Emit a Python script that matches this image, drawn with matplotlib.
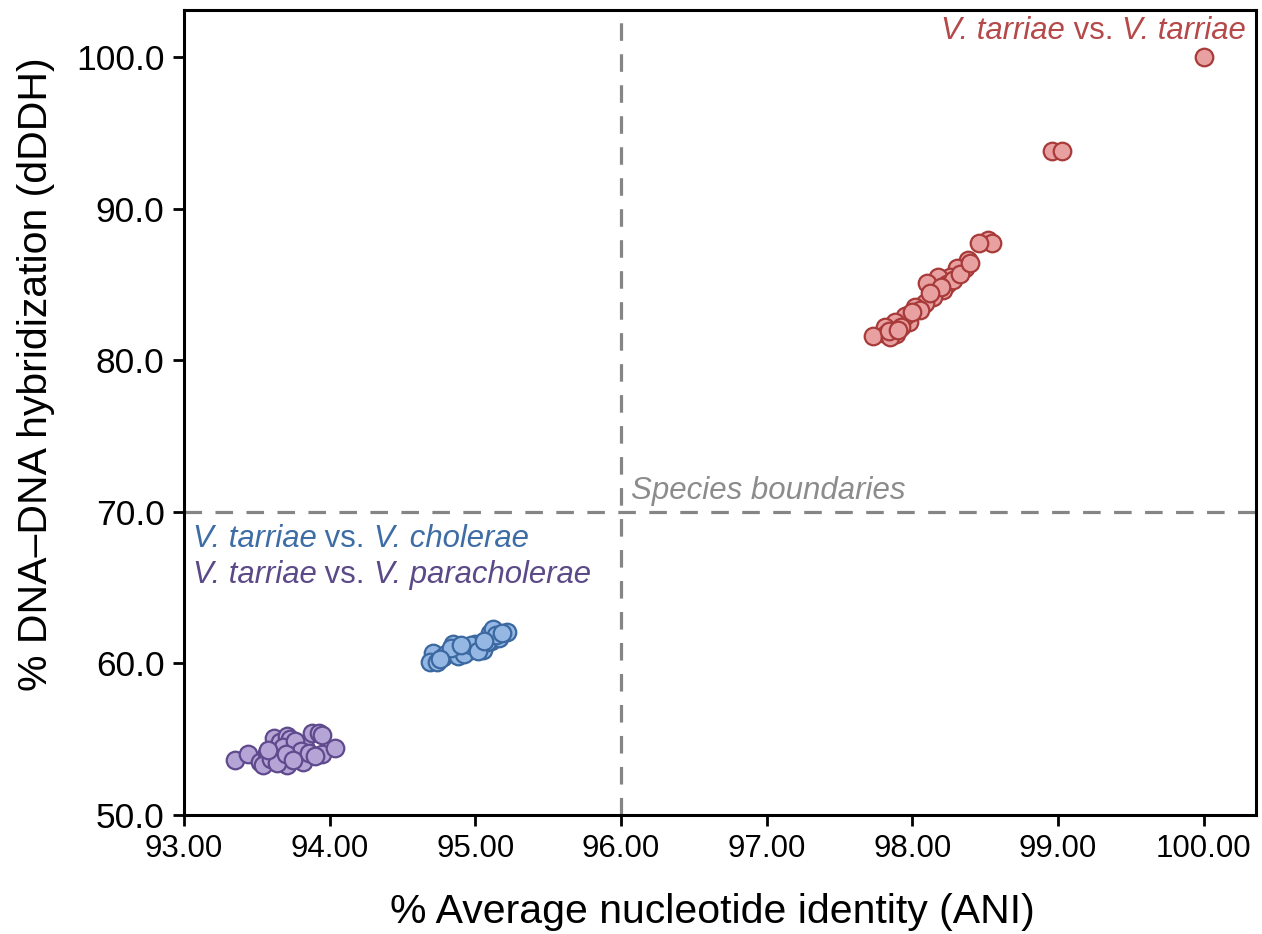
import matplotlib
matplotlib.use("Agg")
import matplotlib.pyplot as plt
from matplotlib.transforms import offset_copy

plt.rcParams["font.family"] = ["Liberation Sans", "DejaVu Sans"]

# V. tarriae vs. V. tarriae
red_ani = [100.00, 98.96, 99.03,
           98.52, 98.55, 98.46, 98.38, 98.36, 98.31, 98.26, 98.18, 98.10,
           98.24, 98.21, 98.14, 98.09, 98.02, 97.97, 97.98, 97.95, 97.88,
           97.81, 97.88, 97.82, 97.89, 97.73, 97.85, 98.28, 98.20, 98.05,
           97.92, 97.84, 98.12, 98.00, 97.90, 98.33, 98.40]
red_ddh = [100.0, 93.8, 93.8,
           87.9, 87.7, 87.7, 86.6, 86.1, 86.1, 85.5, 85.5, 85.1,
           85.0, 84.6, 84.2, 83.8, 83.5, 83.0, 82.5, 82.9, 82.5,
           82.2, 81.9, 81.7, 81.7, 81.6, 81.5, 85.3, 84.8, 83.3,
           82.2, 81.9, 84.4, 83.2, 82.0, 85.7, 86.4]

# V. tarriae vs. V. cholerae
blue_ani = [94.71, 94.69, 94.74, 94.78, 94.85, 94.85, 94.89, 94.93, 94.98,
            95.00, 95.03, 95.10, 95.11, 95.16, 95.22, 95.12, 94.80, 94.88,
            94.95, 95.05, 95.08, 94.92, 94.83, 94.97, 95.02, 95.14, 95.18,
            94.76, 94.90, 95.06]
blue_ddh = [60.7, 60.1, 60.1, 60.4, 61.3, 60.7, 60.9, 61.0, 61.1,
            61.3, 61.1, 62.0, 61.5, 61.7, 62.1, 62.3, 60.6, 60.5,
            60.8, 60.9, 61.4, 60.6, 61.0, 61.2, 60.8, 61.9, 62.0,
            60.3, 61.2, 61.5]

# V. tarriae vs. V. paracholerae
purple_ani = [93.35, 93.44, 93.52, 93.57, 93.62, 93.66, 93.66, 93.71, 93.73,
              93.73, 93.71, 93.78, 93.83, 93.82, 93.88, 93.93, 93.95, 93.95,
              94.04, 93.54, 93.60, 93.68, 93.76, 93.80, 93.64, 93.58, 93.70,
              93.86, 93.90, 93.75]
purple_ddh = [53.6, 54.0, 53.5, 54.1, 55.1, 54.8, 54.2, 55.2, 55.0,
              53.8, 53.3, 53.8, 54.5, 53.5, 55.4, 55.4, 55.3, 54.0,
              54.4, 53.3, 53.7, 54.5, 54.9, 54.2, 53.4, 54.3, 54.0,
              54.1, 53.9, 53.6]

x_ticks = [93, 94, 95, 96, 97, 98, 99, 100]
y_ticks = [50, 60, 70, 80, 90, 100]
ani_boundary = 96.0
ddh_boundary = 70.0

fig = plt.figure(figsize=(12.62, 9.34), dpi=100)
ax = fig.add_axes([0.1458, 0.1274, 0.8494, 0.8619])

dash = (0, (5.5, 4.2))
ax.axvline(ani_boundary, color="#858585", lw=2.3, ls=dash, zorder=1)
ax.axhline(ddh_boundary, color="#858585", lw=2.3, ls=dash, zorder=1)

groups = [
    (red_ani, red_ddh, "#e8a0a0", "#a83a3a"),
    (blue_ani, blue_ddh, "#94b8e3", "#3b68a0"),
    (purple_ani, purple_ddh, "#b5a4d6", "#5e4a8c"),
]
for xs, ys, face, edge in groups:
    ax.scatter(xs, ys, s=160, facecolor=face, edgecolor=edge, linewidth=1.6, zorder=3)

ax.set_xlim(93, 100.36)
ax.set_ylim(50, 103.1)
ax.set_xticks(x_ticks)
ax.set_yticks(y_ticks)
ax.set_xticklabels([f"{v:.2f}" for v in x_ticks], fontsize=22.5)
ax.set_yticklabels([f"{v:.1f}" for v in y_ticks], fontsize=25.5)
ax.tick_params(direction="out", length=8, width=2, color="black", pad=6)
for sp in ax.spines.values():
    sp.set_linewidth(2.2)

ax.set_xlabel("% Average nucleotide identity (ANI)", fontsize=29.5)
ax.set_ylabel("% DNA\u2013DNA hybridization (dDDH)", fontsize=29.5)
ax.xaxis.set_label_coords(0.4925, -0.097)
ax.yaxis.set_label_coords(-0.120, 0.547)

fig.canvas.draw()
renderer = fig.canvas.get_renderer()


def rich_text(x, y, parts, color, size, ha="left"):
    # parts: list of (string, italic) drawn side by side
    seq = parts if ha == "left" else parts[::-1]
    dx = 0.0
    for s, it in seq:
        tr = offset_copy(ax.transData, fig=fig, x=dx, y=0, units="dots")
        t = ax.text(x, y, s, transform=tr, color=color, fontsize=size,
                    style="italic" if it else "normal",
                    ha=ha, va="center")
        w = t.get_window_extent(renderer).width
        dx += w if ha == "left" else -w


sp = " "
rich_text(100.29, 101.7, [("V. tarriae", True), (sp + "vs." + sp, False), ("V. tarriae", True)],
          "#b5494a", 22.4, ha="right")
rich_text(93.06, 68.2, [("V. tarriae", True), (sp + "vs." + sp, False), ("V. cholerae", True)],
          "#3e6da6", 22.4)
rich_text(93.06, 65.8, [("V. tarriae", True), (sp + "vs." + sp, False), ("V. paracholerae", True)],
          "#5b4a87", 22.4)
ax.text(96.07, 71.4, "Species boundaries", color="#8c8c8c", fontsize=22.5,
        style="italic", ha="left", va="center")

fig.savefig("out.png", dpi=100)
